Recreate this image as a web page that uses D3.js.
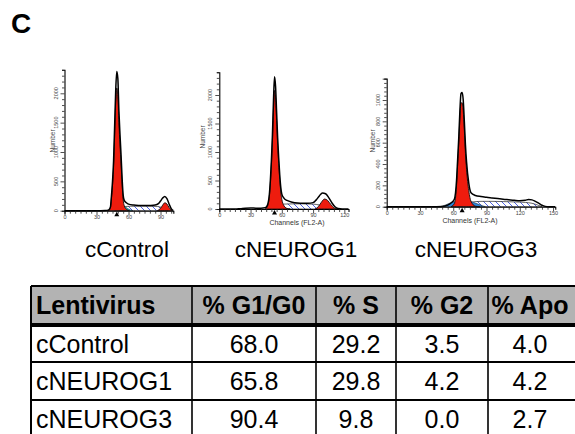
<!DOCTYPE html>
<html lang="en">
<head>
  <meta charset="UTF-8">
  <title>Cell cycle</title>
  <script src="https://cdn.jsdelivr.net/npm/d3@7"></script>
  <style>
    body { margin: 0; background: #fff; }
    svg { display: block; font-family: "Liberation Sans", Arial, sans-serif; }
  </style>
</head>
<body>
<svg id="fig" width="575" height="434"></svg>
<script>
  // histogram series, [channel, count]
  var ctrlTotal = [[0,0],[30,0],[38,3],[41,10],[43,60],[44,250],[45,500],[46,850],[47,1450],[48,2050],[49,2370],[50,2250],[51,1700],[52,1300],[53,950],[54,550],[55,260],[56,175],[58,135],[60,112],[65,96],[70,90],[75,88],[80,90],[85,96],[88,120],[90,165],[92,215],[94,242],[96,205],[98,115],[100,35],[102,0]];
  var ctrlG1 = [[40,0],[42,12],[43,45],[44,210],[45,430],[46,760],[47,1300],[48,1850],[49,2090],[50,1980],[51,1500],[52,1120],[53,800],[54,450],[55,190],[56,85],[58,25],[61,0]];
  var ctrlS = [[47,0],[50,40],[53,62],[57,72],[62,76],[70,76],[80,76],[87,72],[91,55],[94,30],[97,0]];
  var ctrlG2 = [[87,0],[90,40],[92,95],[94,135],[96,115],[98,55],[100,12],[101,0]];
  var ctrlApo = [[47,0],[50,50],[53,105],[56,80],[59,40],[62,10],[64,0]];

  var ng1Total = [[0,0],[15,0],[20,6],[25,14],[30,18],[35,15],[40,14],[44,20],[46,60],[48,250],[49,500],[50,850],[51,1300],[52,1900],[53,2320],[54,2150],[55,1700],[56,1250],[57,900],[58,600],[59,380],[60,260],[62,190],[65,150],[70,120],[75,105],[80,100],[85,100],[90,112],[93,160],[96,230],[99,282],[102,268],[105,200],[108,110],[111,40],[114,8],[118,0],[124,0]];
  var ng1G1 = [[44,0],[46,40],[48,220],[49,450],[50,780],[51,1200],[52,1750],[53,2080],[54,1950],[55,1550],[56,1120],[57,800],[58,520],[59,300],[60,170],[62,60],[65,10],[68,0]];
  var ng1S = [[50,0],[53,40],[56,70],[60,85],[70,90],[80,90],[90,85],[96,70],[100,42],[104,15],[107,0]];
  var ng1G2 = [[92,0],[95,40],[98,120],[101,175],[104,150],[107,80],[110,22],[113,0]];
  var ng1Apo = [[48,0],[52,25],[55,40],[58,30],[61,10],[64,0]];

  var ng3Total = [[0,0],[40,0],[50,3],[55,15],[58,35],[61,70],[63,250],[64,450],[65,650],[66,900],[67,1060],[68,1070],[69,1000],[70,800],[71,580],[72,420],[74,220],[76,130],[80,105],[85,95],[90,88],[95,82],[100,76],[105,70],[110,65],[115,60],[120,56],[125,60],[128,68],[131,64],[134,50],[137,34],[140,14],[143,3],[146,0],[152,0]];
  var ng3G1 = [[58,0],[61,30],[63,200],[64,400],[65,600],[66,830],[67,970],[68,975],[69,900],[70,720],[71,500],[72,350],[74,150],[76,50],[80,5],[84,0]];
  var ng3S = [[64,0],[70,25],[76,42],[85,50],[95,50],[105,48],[115,45],[125,40],[131,32],[136,16],[140,0]];
  var ng3G2 = [];
  var ng3Apo = [[48,0],[52,12],[56,30],[60,45],[65,50],[70,54],[75,50],[80,34],[85,14],[89,0]];

  var peakMarks = [49, 53, 68];
  var sampleNames = ['cControl', 'cNEUROG1', 'cNEUROG3'];

  // table
  var tableHeaders = ['Lentivirus', '% G1/G0', '% S', '% G2', '% Apo'];
  var rowNames = ['cControl', 'cNEUROG1', 'cNEUROG3'];
  var g1Vals = ['68.0', '65.8', '90.4'];
  var sVals = ['29.2', '29.8', '9.8'];
  var g2Vals = ['3.5', '4.2', '0.0'];
  var apoVals = ['4.0', '4.2', '2.7'];

  var svg = d3.select('#fig');
  svg.append('rect').attr('width', 575).attr('height', 434).attr('fill', '#fff');

  var defs = svg.append('defs');
  defs.append('pattern')
    .attr('id', 'hatch')
    .attr('patternUnits', 'userSpaceOnUse')
    .attr('width', 6).attr('height', 6)
    .append('path')
    .attr('d', 'M-1,-1L7,7M-1,5L1,7M5,-1L7,1')
    .attr('stroke', '#3a4fe0')
    .attr('stroke-width', 0.9);

  svg.append('text')
    .attr('x', 11).attr('y', 33)
    .attr('font-size', 28).attr('font-weight', 'bold')
    .text('C');

  var panels = [
    {total: ctrlTotal, g1: ctrlG1, s: ctrlS, g2: ctrlG2, apo: ctrlApo, apoColor: '#22c6dc',
     x0: 64.5, ppc: 1.067, xMax: 102, base: 210.7, ppu: 0.0587, yMax: 2400, yStep: 100, yLab: 500,
     xTitle: false, numX: 55, numY: 141, name: {x: 127, y: 257}},
    {total: ng1Total, g1: ng1G1, s: ng1S, g2: ng1G2, apo: ng1Apo, apoColor: '#7656d6',
     x0: 219.3, ppc: 1.042, xMax: 124, base: 209, ppu: 0.057, yMax: 2400, yStep: 100, yLab: 500,
     xTitle: {x: 297, y: 225}, numX: 205, numY: 137, name: {x: 296, y: 257}},
    {total: ng3Total, g1: ng3G1, s: ng3S, g2: ng3G2, apo: ng3Apo, apoColor: '#2f86d8',
     x0: 386.7, ppc: 1.109, xMax: 152, base: 206.7, ppu: 0.1067, yMax: 1200, yStep: 40, yLab: 200,
     xTitle: {x: 470, y: 223}, numX: 375, numY: 141, name: {x: 476, y: 257}}
  ];

  panels.forEach(function(p, i) {
    var x = d3.scaleLinear().domain([0, p.xMax]).range([p.x0, p.x0 + p.xMax * p.ppc]);
    var y = d3.scaleLinear().domain([0, p.yMax]).range([p.base, p.base - p.yMax * p.ppu]);
    var g = svg.append('g');

    var area = d3.area()
      .x(function(d) { return x(d[0]); })
      .y0(y(0))
      .y1(function(d) { return y(d[1]); })
      .curve(d3.curveMonotoneX);
    var line = d3.line()
      .x(function(d) { return x(d[0]); })
      .y(function(d) { return y(d[1]); })
      .curve(d3.curveMonotoneX);

    g.append('path').datum(p.total).attr('d', area).attr('fill', '#fff');
    g.append('path').datum(p.s).attr('d', area)
      .attr('fill', 'url(#hatch)').attr('stroke', '#222').attr('stroke-width', 0.7);
    g.append('path').datum(p.apo).attr('d', area)
      .attr('fill', p.apoColor).attr('stroke', '#222').attr('stroke-width', 0.5);
    g.append('path').datum(p.g1).attr('d', area)
      .attr('fill', '#ee1c0e').attr('stroke', '#111').attr('stroke-width', 0.9);
    if (p.g2.length) {
      g.append('path').datum(p.g2).attr('d', area)
        .attr('fill', '#ee1c0e').attr('stroke', '#111').attr('stroke-width', 0.9);
    }
    g.append('path').datum(p.total).attr('d', line)
      .attr('fill', 'none').attr('stroke', '#000').attr('stroke-width', 1.5);

    // axes
    var xAxis = d3.axisBottom(x)
      .tickValues(d3.range(0, p.xMax + 1, 5))
      .tickSize(3).tickPadding(1.5)
      .tickFormat(function(d) { return d % 30 === 0 ? d : ''; });
    var xg = g.append('g').attr('transform', 'translate(0,' + p.base + ')').call(xAxis);
    xg.selectAll('text').attr('font-size', 5.5).attr('fill', '#444');
    xg.selectAll('.tick').filter(function(d) { return d % 30 === 0; }).select('line').attr('y2', 4.5);

    var yAxis = d3.axisLeft(y)
      .tickValues(d3.range(0, p.yMax + 1, p.yStep))
      .tickSize(2.5)
      .tickFormat('');
    var yg = g.append('g').attr('transform', 'translate(' + p.x0 + ',0)').call(yAxis);
    yg.selectAll('.tick').filter(function(d) { return d % p.yLab === 0; }).select('line').attr('x2', -4);
    g.selectAll('.ylab')
      .data(d3.range(0, p.yMax, p.yLab))
      .enter().append('text')
      .attr('transform', function(d) { return 'translate(' + (p.x0 - 7) + ',' + y(d) + ') rotate(-90)'; })
      .attr('text-anchor', 'middle')
      .attr('font-size', 5.5).attr('fill', '#444')
      .text(function(d) { return d; });
    [xg, yg].forEach(function(a) {
      a.select('.domain').attr('stroke', '#000').attr('stroke-width', 1.1);
      a.selectAll('line').attr('stroke', '#222').attr('stroke-width', 0.8);
    });

    g.append('text')
      .attr('transform', 'translate(' + p.numX + ',' + p.numY + ') rotate(-90)')
      .attr('text-anchor', 'middle')
      .attr('font-size', 6.5).attr('fill', '#444')
      .text('Number');
    if (p.xTitle) {
      g.append('text')
        .attr('x', p.xTitle.x).attr('y', p.xTitle.y)
        .attr('text-anchor', 'middle')
        .attr('font-size', 7).attr('fill', '#333')
        .text('Channels (FL2-A)');
    }

    var mx = x(peakMarks[i]);
    g.append('path')
      .attr('d', 'M' + (mx - 2.5) + ',' + (p.base + 5.5) + 'L' + mx + ',' + (p.base + 1) + 'L' + (mx + 2.5) + ',' + (p.base + 5.5) + 'Z')
      .attr('fill', '#000');

    svg.append('text')
      .attr('x', p.name.x).attr('y', p.name.y)
      .attr('text-anchor', 'middle')
      .attr('font-size', 22.5)
      .text(sampleNames[i]);
  });

  // table
  var colX = [31, 192, 316, 396, 488, 610];
  var colMid = [0, 254, 356, 442, 530];
  var rowY = [286, 325, 362, 400, 437];
  var t = svg.append('g');

  t.append('rect')
    .attr('x', colX[0]).attr('y', rowY[0])
    .attr('width', colX[5] - colX[0]).attr('height', rowY[1] - rowY[0])
    .attr('fill', '#b3b3b3');

  t.selectAll('.hl')
    .data([rowY[0], rowY[2], rowY[3]])
    .enter().append('line')
    .attr('x1', colX[0]).attr('x2', colX[5])
    .attr('y1', function(d) { return d; }).attr('y2', function(d) { return d; })
    .attr('stroke', '#000').attr('stroke-width', 2);
  t.append('line')
    .attr('x1', colX[0]).attr('x2', colX[5])
    .attr('y1', rowY[1]).attr('y2', rowY[1])
    .attr('stroke', '#000').attr('stroke-width', 4);
  t.selectAll('.vl')
    .data(colX.slice(0, 5))
    .enter().append('line')
    .attr('x1', function(d) { return d; }).attr('x2', function(d) { return d; })
    .attr('y1', rowY[0]).attr('y2', 434)
    .attr('stroke', '#000').attr('stroke-width', function(d, i) { return i === 0 ? 2 : 1.6; });

  t.selectAll('.hd')
    .data(tableHeaders)
    .enter().append('text')
    .attr('x', function(d, i) { return i === 0 ? 36 : colMid[i]; })
    .attr('y', 314)
    .attr('text-anchor', function(d, i) { return i === 0 ? 'start' : 'middle'; })
    .attr('font-size', 25).attr('font-weight', 'bold')
    .text(function(d) { return d; });

  var rows = rowNames.map(function(n, i) { return [n, g1Vals[i], sVals[i], g2Vals[i], apoVals[i]]; });
  rows.forEach(function(r, ri) {
    t.selectAll('.r' + ri)
      .data(r)
      .enter().append('text')
      .attr('x', function(d, i) { return i === 0 ? 36 : colMid[i]; })
      .attr('y', rowY[ri + 1] + 28)
      .attr('text-anchor', function(d, i) { return i === 0 ? 'start' : 'middle'; })
      .attr('font-size', 25)
      .text(function(d) { return d; });
  });
</script>
</body>
</html>
